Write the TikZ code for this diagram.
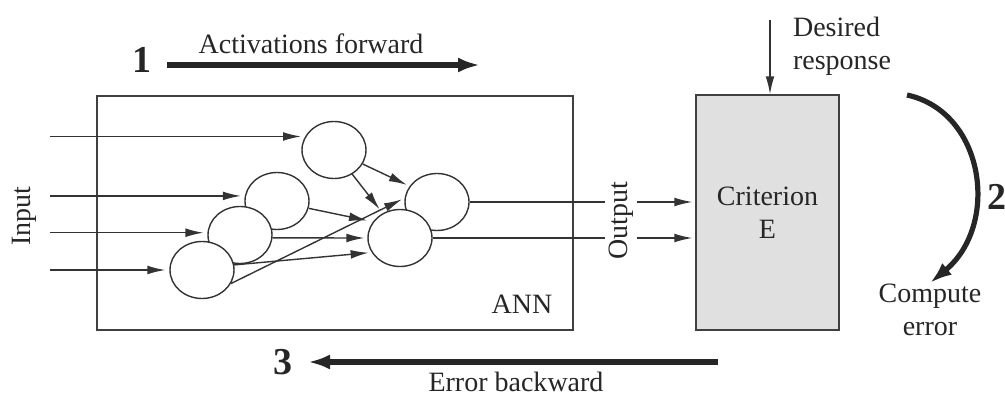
\documentclass[tikz,border=0pt]{standalone}
\usepackage{fontspec}
\setmainfont{Liberation Serif}
\usetikzlibrary{arrows.meta,shapes.geometric}

\begin{document}
\begin{tikzpicture}[x=0.5pt,y=-0.5pt,
  every node/.style={font=\fontsize{14}{16.5}\selectfont, text=black!85},
  neuron/.style={ellipse, draw=black!80, fill=white, line width=0.7pt,
    minimum width=32pt, minimum height=28.5pt, inner sep=0pt},
  wire/.style={draw=black!80, line width=0.7pt},
  sarrow/.style={wire, -{Latex[length=9pt,width=4.4pt]}, shorten >=1.5pt},
  bigarrow/.style={draw=black!85, line width=2.6pt, -{Latex[length=11pt,width=7.5pt]}},
  stepnum/.style={font=\fontsize{19}{22}\selectfont\bfseries},
  panel/.style={rectangle, draw=black!75, line width=0.7pt, inner sep=0pt}
]
\useasboundingbox (0,0) rectangle (1005,396);

% network frame and criterion block
\node[panel, minimum width=238pt, minimum height=117pt] (ann) at (335,213) {};
\node[panel, fill=black!12, minimum width=71.5pt, minimum height=117.5pt,
      align=center] (crit) at (767.5,212.5) {Criterion\\E};
\node (annlbl) at (522,304) {ANN};

% neurons (later ones overlap earlier ones)
\node[neuron] (B) at (277,201) {};
\node[neuron] (C) at (240,235) {};
\node[neuron] (D) at (202,270) {};
\node[neuron] (A) at (334,150) {};
\node[neuron] (E) at (437,202) {};
\node[neuron] (F) at (400,238) {};

% inputs
\coordinate (inx) at (50,0);
\node[rotate=90] (inlbl) at (24,216) {Input};
\draw[sarrow, shorten >=2pt] (A.155 -| inx) -- (A.155);
\draw[sarrow, shorten >=2pt] (B.171 -| inx) -- (B.171);
\draw[sarrow, shorten >=2pt] (C.176 -| inx) -- (C.176);
\draw[sarrow, shorten >=2pt] (D.west -| inx) -- (D.west);

% connections between neurons
\draw[sarrow] (A.-26) -- (E.150);
\draw[sarrow, shorten >=2.5pt] (A.-53) -- (F.125);
\draw[sarrow, shorten >=3pt] (B.-13) -- (F.149);
\draw[sarrow] (C.-5) -- (F.west);
\draw[sarrow] (D.9) -- (F.-153);
\draw[sarrow] (D.-25) -- (E.173);

% outputs into the criterion
\node[rotate=90, inner sep=1.5pt] (out) at (621,221) {Output};
\draw[wire] (E.east) -- (E.east -| out.north);
\draw[sarrow] (E.east -| out.south) -- (E.east -| crit.west);
\draw[wire] (F.east) -- (F.east -| out.north);
\draw[sarrow] (F.east -| out.south) -- (F.east -| crit.west);

% desired response
\coordinate (dtop) at (770,20);
\draw[sarrow, shorten >=0pt] (dtop) -- (dtop |- crit.north);
\node[anchor=west, align=left] (desired) at (786,46) {Desired\\response};

% step 1: forward pass
\node[stepnum] (n1) at (142,60) {1};
\coordinate (f1) at (167,65);
\coordinate (f2) at (480,65);
\draw[bigarrow] (f1) -- (f2);
\node (fwd) at (311,44) {Activations forward};

% step 2: compute error
\coordinate (c1) at (907,95);
\coordinate (c2) at (930,283);
\draw[bigarrow] (c1) .. controls (985,112) and (1000,225) .. (c2);
\node[stepnum, anchor=west, inner sep=1pt] (n2) at (985,197) {2};
\node[align=center] (cerr) at (930,310) {Compute\\error};

% step 3: backward pass
\node[stepnum] (n3) at (283,362) {3};
\coordinate (b1) at (718,362);
\coordinate (b2) at (308,362);
\draw[bigarrow] (b1) -- (b2);
\node (bwd) at (516,382) {Error backward};
\end{tikzpicture}
\end{document}
